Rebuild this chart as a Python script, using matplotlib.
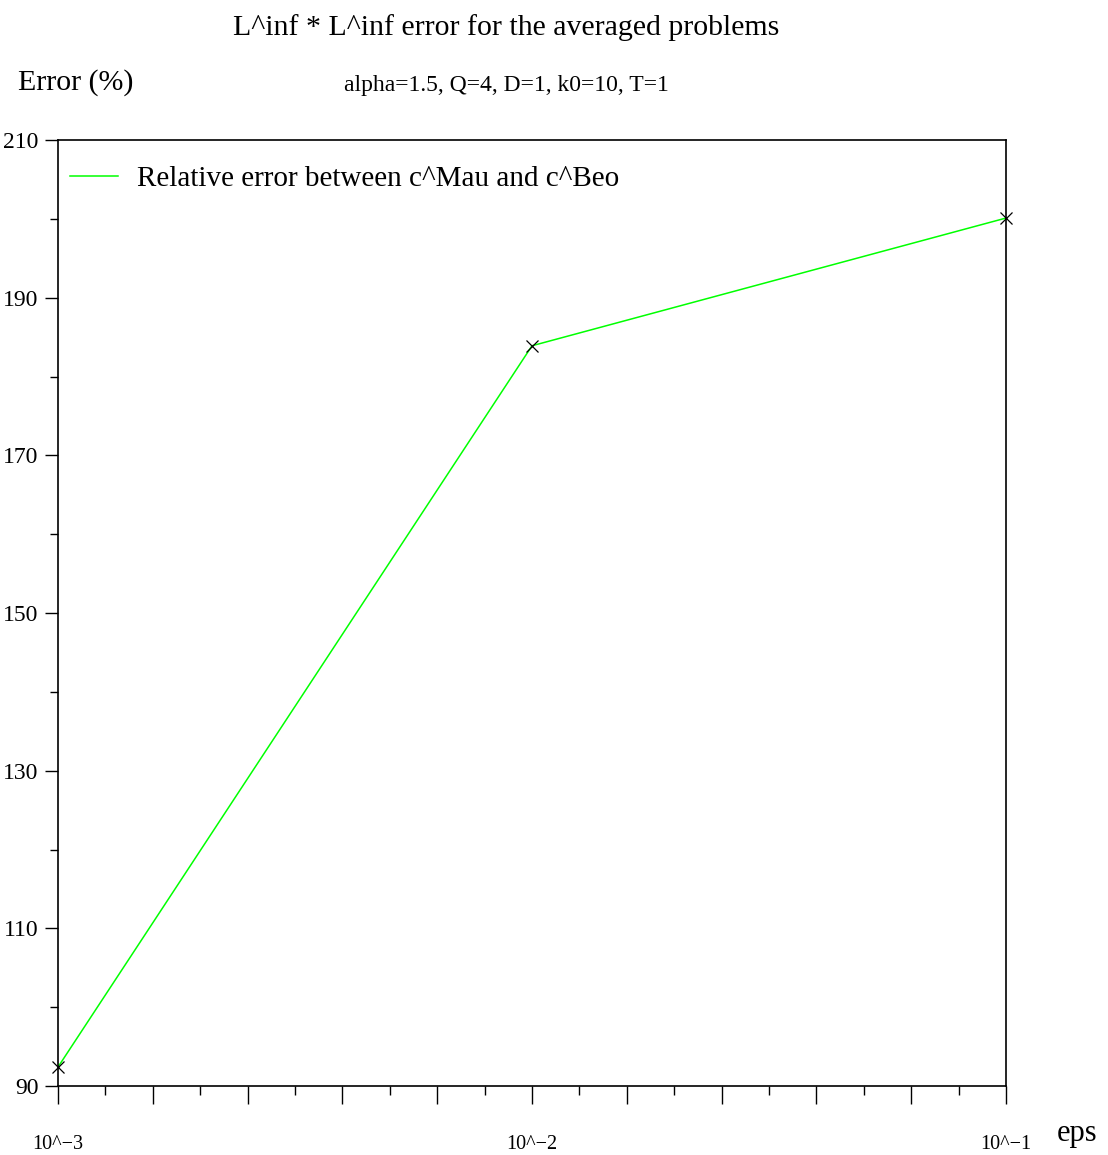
import numpy as np
import matplotlib
matplotlib.use("Agg")
import matplotlib.pyplot as plt

# eps values (plotted by exponent) and relative error in %
eps_exp = [-3, -2, -1]
eps_labels = ['10^\u22123', '10^\u22122', '10^\u22121']
err = [92.4, 183.9, 200.1]

plt.rcParams['font.family'] = ['Liberation Serif', 'DejaVu Serif']

fig = plt.figure(figsize=(11.08, 11.55), dpi=100)
ax = fig.add_axes([58/1108, 1-1086/1155, (1006-58)/1108, (1086-140)/1155])

ax.plot(eps_exp, err, color='#00ff00', lw=1.1, label='Relative error between c^Mau and c^Beo')
ax.plot(eps_exp, err, ls='none', marker='x', color='black', ms=8, mew=0.9, clip_on=False)

ax.set_xlim(-3, -1)
ax.set_ylim(90, 210)

# labelled ticks only at the decades, long ticks every 0.2, short in between
major = np.arange(-3, -0.99, 0.2)
labels = [''] * len(major)
labels[0], labels[5], labels[10] = eps_labels
ax.set_xticks(major)
ax.set_xticklabels(labels, fontsize=14.5)
ax.set_xticks(np.arange(-2.9, -1.0, 0.2), minor=True)
ax.tick_params(axis='x', which='major', direction='out', length=13, width=1, pad=22)
ax.tick_params(axis='x', which='minor', direction='out', length=6.5, width=1)

ax.set_yticks(np.arange(90, 211, 20))
ax.set_yticks(np.arange(100, 210, 20), minor=True)
ax.tick_params(axis='y', which='major', direction='out', length=9.4, width=1, labelsize=17, pad=4.5)
ax.tick_params(axis='y', which='minor', direction='out', length=5.8, width=1)

for s in ax.spines.values():
    s.set_linewidth(1.2)

leg = ax.legend(loc='upper left', frameon=False, fontsize=21, handlelength=1.65,
                handletextpad=0.65, bbox_to_anchor=(-6/948, 1 - 8/946), borderaxespad=0.2)

fig.text(506/1108, 1-28/1155, 'L^inf * L^inf error for the averaged problems',
         ha='center', va='center', fontsize=21.5)
fig.text(18/1108, 1-83/1155, 'Error (%)', ha='left', va='center', fontsize=21.5)
fig.text(344/1108, 1-85/1155, 'alpha=1.5, Q=4, D=1, k0=10, T=1', ha='left', va='center', fontsize=17)
fig.text(1057/1108, 1-1134/1155, 'eps', ha='left', va='center', fontsize=22)

fig.savefig('out.png', dpi=100)
